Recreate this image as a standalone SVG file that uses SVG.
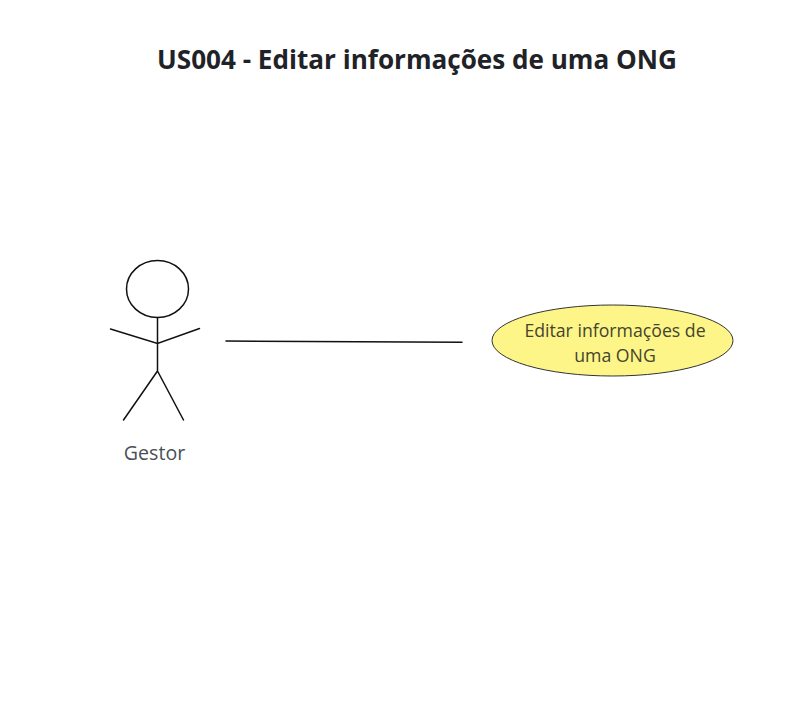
<svg xmlns="http://www.w3.org/2000/svg" width="801" height="703" viewBox="0 0 801 703">
<style>
text{font-family:"Open Sans","Noto Sans",sans-serif;text-anchor:middle}
.t{font-size:26.1px;font-weight:700;fill:#1f2328}
.l{font-size:19.6px;fill:#4a4f55}
.u{font-size:17.7px;fill:#44442f}
.s{fill:none;stroke:#111;stroke-width:1.5;stroke-linecap:round}
</style>
<rect width="801" height="703" fill="#fff"/>
<text id="title" class="t" x="417" y="69">US004 - Editar informações de uma ONG</text>
<g id="actor-gestor">
<ellipse class="s" cx="157.500" cy="289" rx="31" ry="28.500"/>
<path class="s" d="M157.500 317.500V371M110.500 329L157.500 343.500L199.500 328.500M157.500 371L123.500 420M157.500 371L183.500 420"/>
<text class="l" x="154.500" y="460">Gestor</text>
</g>
<g id="connectors">
<path class="s" d="M226 341L462 342.300"/>
</g>
<g id="usecase-editar">
<ellipse cx="612.500" cy="340.500" rx="120.500" ry="35.500" fill="#fdf587" stroke="#333" stroke-width="1"/>
<text class="u" x="615" y="337">Editar informações de</text>
<text class="u" x="615" y="362">uma ONG</text>
</g>
</svg>
